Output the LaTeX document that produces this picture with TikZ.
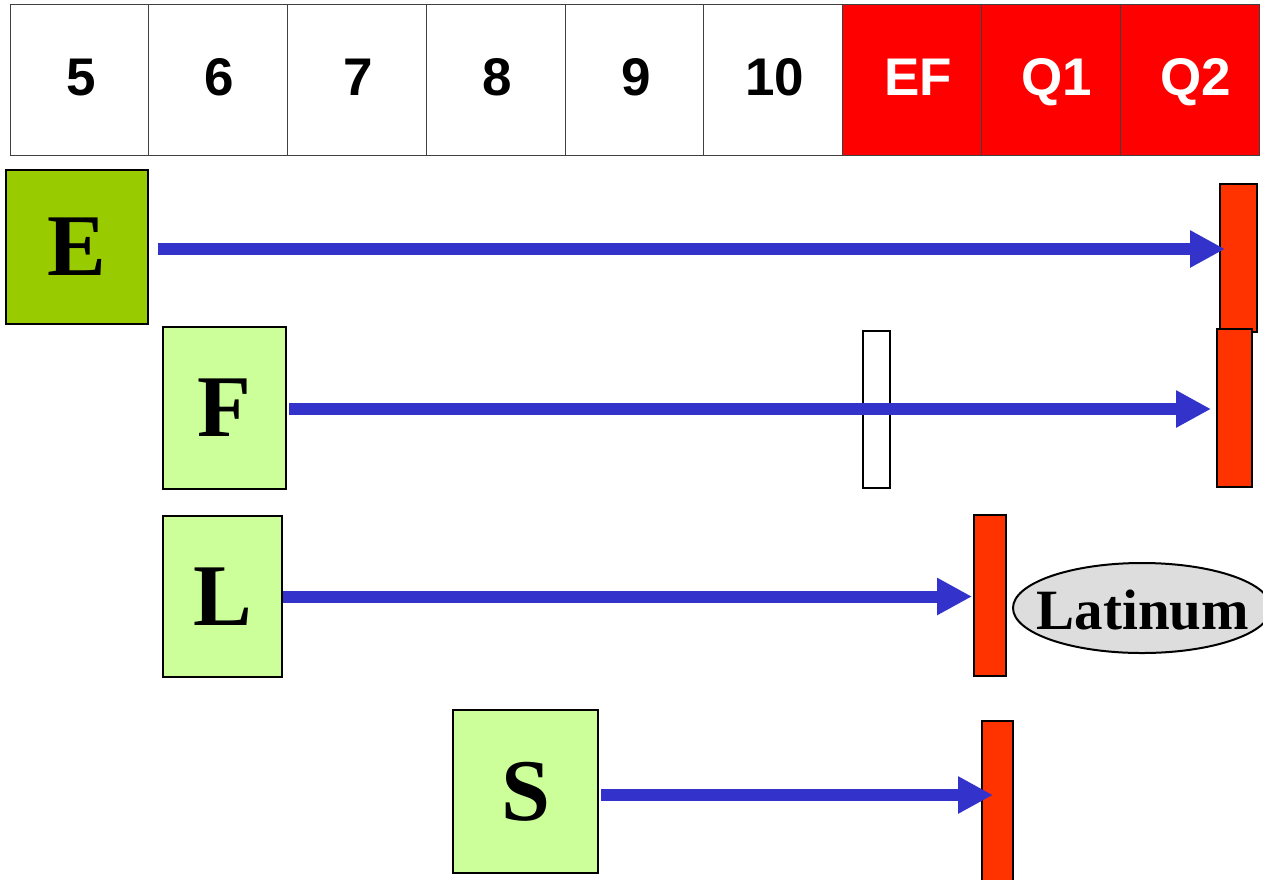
\documentclass[tikz,border=0pt]{standalone}
\usepackage{fontspec}
\setmainfont{Liberation Serif}
\setsansfont{Liberation Sans}
\usetikzlibrary{arrows.meta,shapes.geometric}
\definecolor{olivegr}{HTML}{99CC00}
\definecolor{lightgr}{HTML}{CCFF99}
\definecolor{barred}{HTML}{FF3300}
\definecolor{topred}{HTML}{FF0000}
\definecolor{arrblue}{HTML}{3333CC}
\definecolor{ellgray}{HTML}{DDDDDD}
\tikzset{
  cell/.style={draw=black!75, line width=1pt, minimum width=138.78pt, minimum height=151pt, inner sep=0pt,
    text height=31pt, text depth=0pt,
    font=\sffamily\bfseries\fontsize{53}{53}\selectfont},
  whitecell/.style={cell, fill=white, text=black},
  redcell/.style={cell, fill=topred, text=white},
  letterbox/.style={draw=black, line width=2pt, inner sep=0pt, font=\rmfamily\bfseries\fontsize{88}{88}\selectfont},
  bar/.style={draw=black, line width=2pt, fill=barred, inner sep=0pt},
  emptybar/.style={draw=black, line width=2pt, fill=white, inner sep=0pt},
  arr/.style={draw=arrblue, line width=12pt, -{Triangle[length=35pt,width=35pt]}},
}
\begin{document}
\begin{tikzpicture}[x=1pt,y=-1pt]
\useasboundingbox (0,0) rectangle (1263,879);
% top row
\foreach \lab [count=\i from 0] in {5,6,7,8,9,10}{
  \node[whitecell] (c\i) at ({10+138.78*(\i+0.5)},79.5) {\hspace*{3pt}\lab};
}
\foreach \lab [count=\i from 6] in {EF,Q1,Q2}{
  \node[redcell] (c\i) at ({10+138.78*(\i+0.5)},79.5) {\hspace*{12pt}\lab};
}
% bars
\node[bar, minimum width=37pt, minimum height=148pt] (Ebar) at (1238.5,258) {};
\node[bar, minimum width=35pt, minimum height=158pt] (Fbar) at (1234.5,408) {};
\node[emptybar, minimum width=27pt, minimum height=157pt] (Wbar) at (876.5,409.5) {};
\node[bar, minimum width=32pt, minimum height=161pt] (Lbar) at (990,595.5) {};
\node[bar, minimum width=31pt, minimum height=164pt] (Sbar) at (997.5,803) {};
% letter boxes
\node[letterbox, fill=olivegr, minimum width=142pt, minimum height=154pt] (E) at (77,247) {E};
\node[letterbox, fill=lightgr, minimum width=123pt, minimum height=162pt] (F) at (224.5,408) {F};
\node[letterbox, fill=lightgr, minimum width=119pt, minimum height=161pt] (L) at (222.5,596.5) {L};
\node[letterbox, fill=lightgr, minimum width=145pt, minimum height=163pt] (S) at (525.5,791.5) {S};
% ellipse
\node[draw=black, line width=2pt, fill=ellgray, ellipse, minimum width=258pt, minimum height=90pt, inner sep=0pt] (Lat) at (1142,608) {};
\node[font=\rmfamily\bfseries\fontsize{57}{57}\selectfont, inner sep=0pt] (Lattext) at ([xshift=1pt,yshift=-2pt]Lat.center) {Latinum};
% arrows
\draw[arr, shorten <=9pt, shorten >=-6pt] ([yshift=-2pt]E.east) -- ([yshift=-2pt]E.east -| Ebar.west);
\draw[arr, shorten <=2pt, shorten >=5pt] ([yshift=-1pt]F.east) -- ([yshift=-1pt]F.east -| Fbar.west);
\draw[arr, shorten >=1pt] (L.east) -- (L.east -| Lbar.west);
\draw[arr, shorten <=2pt, shorten >=-12pt] ([yshift=-3.5pt]S.east) -- ([yshift=-3.5pt]S.east -| Sbar.west);
\end{tikzpicture}
\end{document}
